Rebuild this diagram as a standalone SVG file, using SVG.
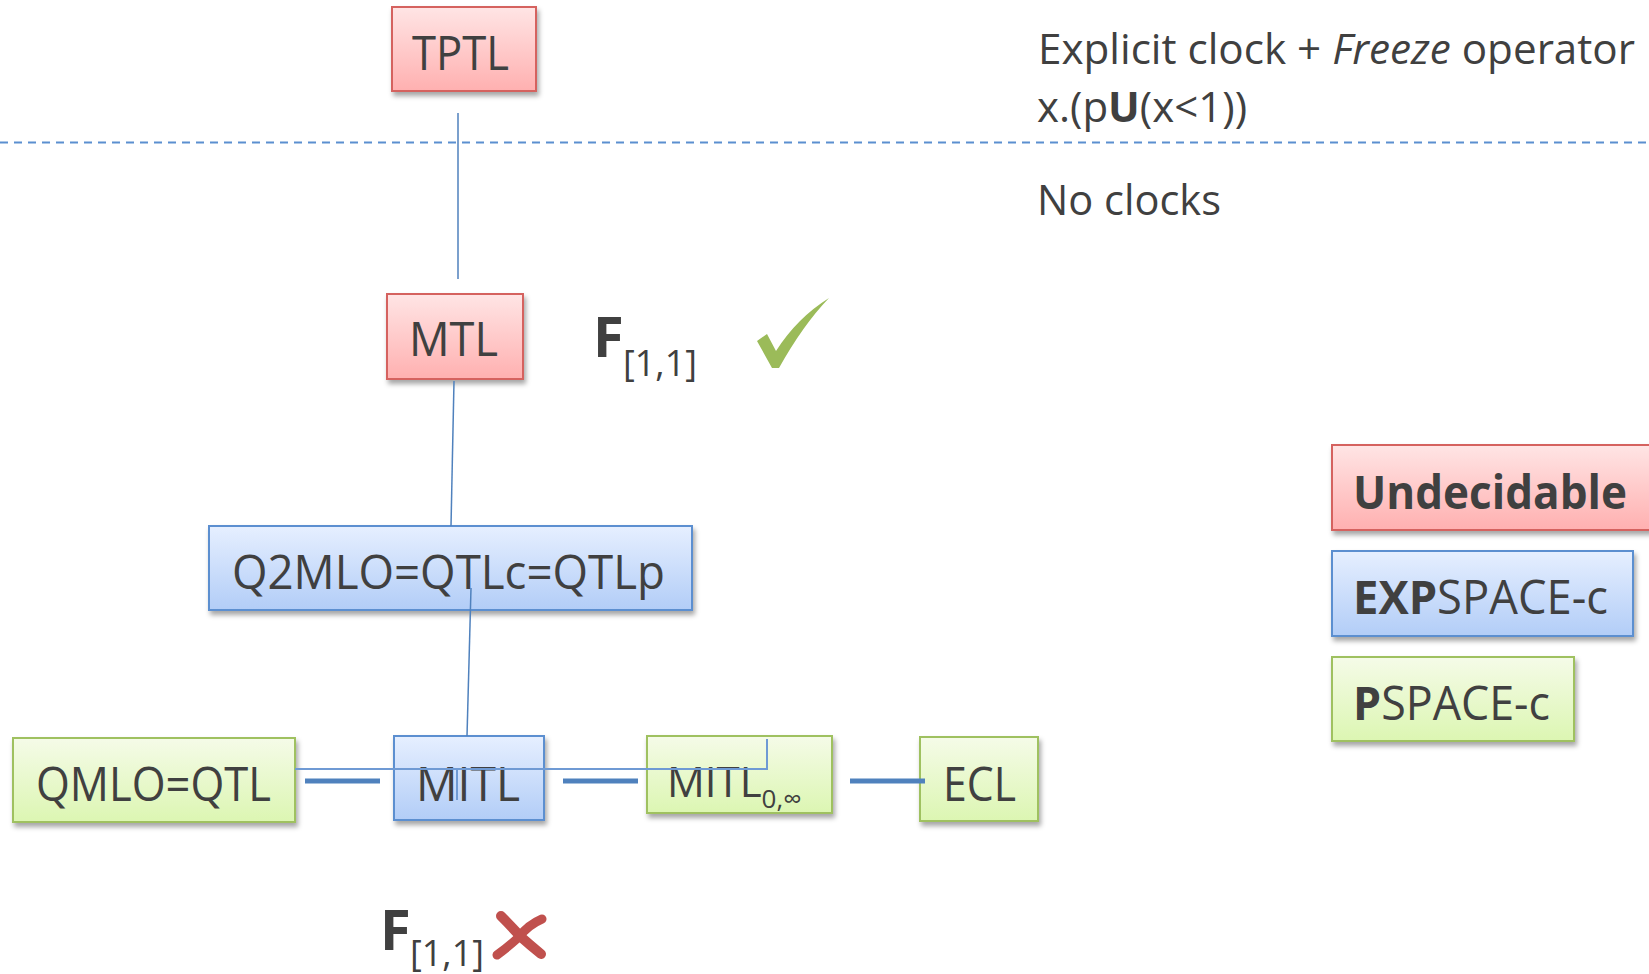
<svg xmlns="http://www.w3.org/2000/svg" width="1649" height="974" viewBox="0 0 1649 974">
<defs>
<linearGradient id="gRed" x1="0" y1="0" x2="0" y2="1"><stop offset="0" stop-color="#ffe5e5"/><stop offset="1" stop-color="#ffb0b0"/></linearGradient>
<linearGradient id="gBlue" x1="0" y1="0" x2="0" y2="1"><stop offset="0" stop-color="#e6efff"/><stop offset="1" stop-color="#b2cdf7"/></linearGradient>
<linearGradient id="gGreen" x1="0" y1="0" x2="0" y2="1"><stop offset="0" stop-color="#f5fbe8"/><stop offset="1" stop-color="#dcf6b2"/></linearGradient>
<filter id="sh" x="-10%" y="-10%" width="125%" height="135%"><feDropShadow dx="2" dy="4" stdDeviation="2.5" flood-color="#000" flood-opacity="0.35"/></filter>
<style>
.t{font-family:"Open Sans","Noto Sans",sans-serif;fill:#404040;}
.lab{font-size:47px;}
.red{fill:url(#gRed);stroke:#d5625f;stroke-width:2;filter:url(#sh);}
.blue{fill:url(#gBlue);stroke:#5b8fd0;stroke-width:2;filter:url(#sh);}
.green{fill:url(#gGreen);stroke:#9fc160;stroke-width:2;filter:url(#sh);}
.thin{stroke:#4f81bd;stroke-width:1.5;fill:none;}
.thin2{stroke:#6f9ad4;stroke-width:2;fill:none;}
.thick{stroke:#4f81bd;stroke-width:5;fill:none;}
</style>
</defs>
<rect width="1649" height="974" fill="#fff"/>
<line x1="0" y1="142.5" x2="1649" y2="142.5" stroke="#5b8fd0" stroke-width="2.2" stroke-dasharray="8 6"/>
<text class="t" x="1038" y="64" font-size="42" textLength="597" lengthAdjust="spacingAndGlyphs">Explicit clock + <tspan font-style="italic">Freeze</tspan> operator</text>
<text class="t" x="1037" y="122" font-size="42">x.(p<tspan font-weight="bold">U</tspan>(x&lt;1))</text>
<text class="t" x="1037" y="215" font-size="42" textLength="184" lengthAdjust="spacingAndGlyphs">No clocks</text>

<g id="TPTL"><rect class="red" x="392" y="7" width="144" height="84"/><text class="t lab" x="412" y="70" textLength="97" lengthAdjust="spacingAndGlyphs">TPTL</text></g>
<g id="MTL"><rect class="red" x="387" y="294" width="136" height="85"/><text class="t lab" x="409" y="356" textLength="89" lengthAdjust="spacingAndGlyphs">MTL</text></g>
<g id="Q2MLO"><rect class="blue" x="209" y="526" width="483" height="84"/><text class="t lab" x="232" y="589" textLength="433" lengthAdjust="spacingAndGlyphs">Q2MLO=QTLc=QTLp</text></g>
<g id="QMLO"><rect class="green" x="13" y="738" width="282" height="84"/><text class="t lab" x="36" y="801" textLength="235" lengthAdjust="spacingAndGlyphs">QMLO=QTL</text></g>
<g id="MITL"><rect class="blue" x="394" y="736" width="150" height="84"/><text class="t lab" x="416" y="801" textLength="104" lengthAdjust="spacingAndGlyphs">MITL</text></g>
<g id="MITL0"><rect class="green" x="647" y="736" width="185" height="77"/><text class="t" x="667" y="797" font-size="42">MITL<tspan dy="11" font-size="26">0,∞</tspan></text></g>
<g id="ECL"><rect class="green" x="920" y="737" width="118" height="84"/><text class="t lab" x="943" y="801" textLength="73" lengthAdjust="spacingAndGlyphs">ECL</text></g>

<g id="legend-undecidable"><rect class="red" x="1332" y="445" width="330" height="85"/><text class="t" x="1353" y="509" font-size="47" font-weight="bold" textLength="274" lengthAdjust="spacingAndGlyphs">Undecidable</text></g>
<g id="legend-expspace"><rect class="blue" x="1332" y="551" width="301" height="85"/><text class="t" x="1353" y="614" font-size="47" textLength="255" lengthAdjust="spacingAndGlyphs"><tspan font-weight="bold">EXP</tspan>SPACE-c</text></g>
<g id="legend-pspace"><rect class="green" x="1332" y="657" width="242" height="84"/><text class="t" x="1353" y="720" font-size="47" textLength="197" lengthAdjust="spacingAndGlyphs"><tspan font-weight="bold">P</tspan>SPACE-c</text></g>

<g id="f-ok"><text class="t" x="593" y="357" font-size="56" font-weight="bold">F<tspan x="623" dy="19" font-size="36" font-weight="normal">[1,1]</tspan></text>
<path d="M757,341 L767,334 L776,351 Q797,318 829,298 Q803,325 779,368 L772,368 Z" fill="#9bbb59"/></g>
<g id="f-no"><text class="t" x="380" y="950" font-size="56" font-weight="bold">F<tspan x="410" dy="16" font-size="36" font-weight="normal">[1,1]</tspan></text>
<path d="M501,916 Q510,925 521,937 Q530,945 541,954" stroke="#c0504d" stroke-width="10" stroke-linecap="round" fill="none"/>
<path d="M542,919 Q528,925 519,937 Q508,947 497,955" stroke="#c0504d" stroke-width="9" stroke-linecap="round" fill="none"/></g>

<g id="connectors">
<line class="thin" x1="458" y1="113" x2="458" y2="279"/>
<line class="thin" x1="454" y1="381" x2="451" y2="526"/>
<line class="thin" x1="471" y1="588" x2="467" y2="736"/>
<polyline class="thin2" points="295,769 767,769 767,739"/>
<line class="thin2" x1="457" y1="769" x2="457" y2="800"/>
<line class="thick" x1="305" y1="781" x2="380" y2="781"/>
<line class="thick" x1="563" y1="781" x2="638" y2="781"/>
<line class="thick" x1="850" y1="781" x2="925" y2="781"/>
</g>
</svg>
